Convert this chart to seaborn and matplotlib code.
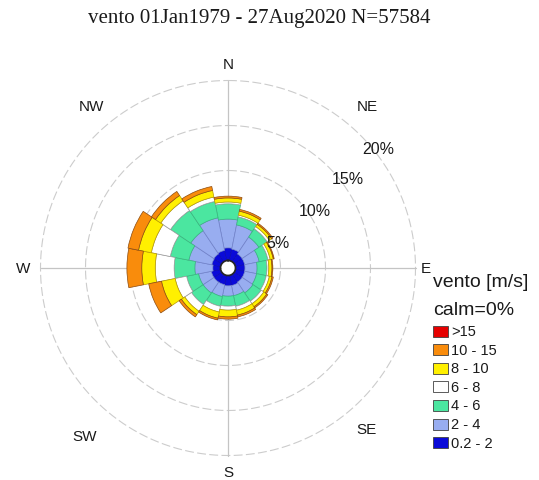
import numpy as np
import matplotlib
matplotlib.use("Agg")
import matplotlib.pyplot as plt
from matplotlib.patches import Rectangle
import seaborn as sns

# 16 compass sectors, clockwise from north
directions = ["N", "NNE", "NE", "ENE", "E", "ESE", "SE", "SSE",
              "S", "SSW", "SW", "WSW", "W", "WNW", "NW", "NNW"]
dir_deg = np.arange(16) * 22.5

# wind speed classes [m/s]
speed_labels = ["0.2 - 2", "2 - 4", "4 - 6", "6 - 8", "8 - 10", "10 - 15", ">15"]

# frequency of occurrence (%) of each speed class in every sector
freq_0_2 = [1.40, 1.30, 1.05, 1.05, 1.05, 1.05, 1.05, 1.15,
            1.15, 1.05, 1.05, 1.05, 0.85, 1.00, 1.05, 1.15]
freq_2_4 = [3.20, 2.75, 2.25, 1.65, 1.35, 1.35, 1.45, 1.15,
            1.15, 1.35, 1.45, 1.45, 2.00, 2.60, 3.10, 3.70]
freq_4_6 = [1.70, 0.90, 1.10, 1.00, 1.10, 1.10, 1.10, 1.20,
            1.10, 1.10, 1.55, 1.35, 2.30, 2.10, 2.70, 1.85]
freq_6_8 = [0.20, 0.20, 0.30, 0.25, 0.20, 0.35, 0.35, 0.45,
            0.45, 0.65, 0.90, 1.30, 2.10, 2.15, 1.30, 0.50]
freq_8_10 = [0.45, 0.45, 0.30, 0.35, 0.35, 0.30, 0.40, 0.55,
             0.75, 0.70, 0.45, 1.55, 1.50, 1.45, 0.70, 0.75]
freq_10_15 = [0.20, 0.20, 0.15, 0.10, 0.10, 0.15, 0.15, 0.20,
              0.25, 0.20, 0.30, 1.45, 1.65, 1.20, 0.55, 0.45]
freq_15 = [0.0] * 16

speed_colors = ["#0a0ad8", "#98adf0", "#4be6a0", "#ffffff",
                "#fff000", "#f98c0c", "#e60000"]
edge_colors = ["#0a0ab0", "#6f80c8", "#38b47e", "#9a9a9a",
               "#b89a00", "#8a4a10", "#900000"]

ring_values = [5, 10, 15, 20]
ring_labels = ["5%", "10%", "15%", "20%"]

title = "vento 01Jan1979 - 27Aug2020 N=57584"

sns.set_theme(style="white")
plt.rcParams["font.family"] = ["Liberation Sans", "DejaVu Sans"]

fig = plt.figure(figsize=(5.39, 4.81), dpi=100)
W, H = 539.0, 481.0

cx, cy, R = 228.0, 269.0, 187.5
ax = fig.add_axes([(cx - R) / W, 1 - (cy + R) / H, 2 * R / W, 2 * R / H],
                  projection="polar")
ax.set_theta_zero_location("N")
ax.set_theta_direction(-1)
ax.set_ylim(0, 20)
ax.set_rorigin(-7.5 / 9.0)
ax.grid(False)
ax.set_xticks([])
ax.set_yticks([])
for sp in ax.spines.values():
    sp.set_visible(False)
ax.patch.set_alpha(0)

grid_col = "#cccccc"
th = np.linspace(0, 2 * np.pi, 721)
for r in ring_values:
    ax.plot(th, np.full_like(th, r), ls=(0, (8, 3)), color=grid_col,
            lw=0.8, zorder=1, clip_on=False)
for a in [0, 90, 180, 270]:
    ax.plot([np.deg2rad(a)] * 2, [0, 20], color="#c4c4c4", lw=0.9, zorder=1,
            clip_on=False)

# stacked sectors
classes = [freq_0_2, freq_2_4, freq_4_6, freq_6_8, freq_8_10, freq_10_15, freq_15]
theta = np.deg2rad(dir_deg)
width = np.deg2rad(22.5)
bottom = np.zeros(16)
for vals, col, ec in zip(classes, speed_colors, edge_colors):
    h = np.asarray(vals, dtype=float)
    m = h > 0
    if m.any():
        ax.bar(theta[m], h[m], width=width, bottom=bottom[m], color=col,
               edgecolor=ec, linewidth=0.5, zorder=2, align="center")
    bottom = bottom + h

# compass labels
compass = {"N": (0, 21.8), "NE": (40.8, 22.9), "E": (90, 21.2),
           "SE": (139.2, 22.8), "S": (180, 21.8), "SW": (220.4, 23.7),
           "W": (270, 21.9), "NW": (319.8, 22.7)}
for lab, (ang, rr) in compass.items():
    ax.text(np.deg2rad(ang), rr, lab, ha="center", va="center",
            fontsize=11, color="#1a1a1a", clip_on=False, zorder=5)

# ring percentages
ring_pos = [(62.9, 5.44), (56.7, 10.77), (53.4, 15.77), (51.4, 20.5)]
for lab, (ang, rr) in zip(ring_labels, ring_pos):
    ax.text(np.deg2rad(ang), rr, lab, ha="center", va="center",
            fontsize=11.5, color="#1a1a1a", clip_on=False, zorder=5)

fig.text(259 / W, 1 - 19 / H, title, ha="center", va="center",
         fontsize=15, family=["Liberation Serif", "DejaVu Serif"], color="#1a1a1a")

# legend
fig.text(433 / W, 1 - 287 / H, "vento [m/s]", ha="left", va="baseline",
         fontsize=14, color="#1a1a1a")
fig.text(433 / W, 1 - 315 / H, "calm=0%", ha="left", va="baseline",
         fontsize=14, color="#1a1a1a")
y0, dy = 332.0, 18.6
entries = list(zip(speed_labels, speed_colors))[::-1]
for i, (lab, col) in enumerate(entries):
    yc = y0 + i * dy
    fig.add_artist(Rectangle((433 / W, 1 - (yc + 5.5) / H), 15 / W, 11 / H,
                             transform=fig.transFigure, facecolor=col,
                             edgecolor="#404040", linewidth=0.6))
    fig.text(451 / W, 1 - yc / H, lab, ha="left", va="center",
             fontsize=10.5, color="#1a1a1a")

fig.savefig("out.png", dpi=100, facecolor="white")
